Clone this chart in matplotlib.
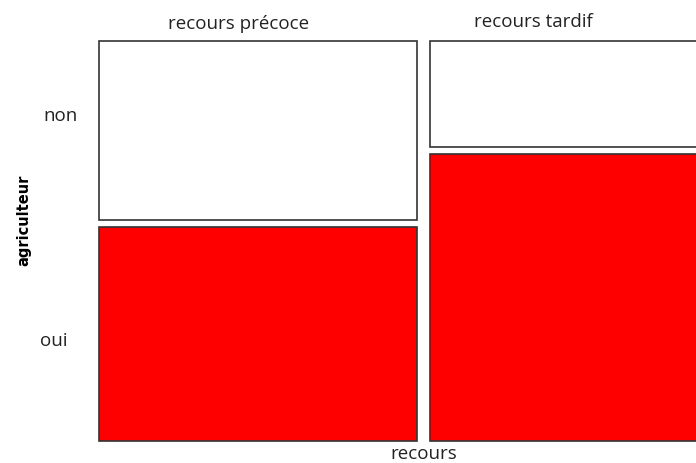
import matplotlib
matplotlib.use("Agg")
import matplotlib.pyplot as plt
from matplotlib.patches import Rectangle

# Data (proportions read from the mosaic)
col_labels = ["recours précoce", "recours tardif"]
row_labels = ["non", "oui"]
col_widths = [0.5, 0.5]          # share of each "recours" level
prop_non = [0.455, 0.27]         # share of "non" within each column
colors = {"non": "white", "oui": "#ff0000"}

W, H = 696, 463
fig = plt.figure(figsize=(W / 100, H / 100), dpi=100)

# axes placement in pixels
px_left, px_top, px_bottom = 99, 41, 441
px_per_unit = 636.0
gap_x = 13 / px_per_unit
gap_y = 7 / (px_bottom - px_top)
ax_w_px = W - px_left
ax = fig.add_axes([px_left / W, (H - px_bottom) / H, ax_w_px / W, (px_bottom - px_top) / H])
ax.set_xlim(0, ax_w_px / px_per_unit)
ax.set_ylim(0, 1)
ax.axis("off")

x0 = 0.0
for w, pn in zip(col_widths, prop_non):
    avail = 1 - gap_y
    h_oui = avail * (1 - pn)
    h_non = avail * pn
    ax.add_patch(Rectangle((x0, 0), w, h_oui, facecolor=colors["oui"],
                           edgecolor="#333333", linewidth=1.2, clip_on=False))
    ax.add_patch(Rectangle((x0, h_oui + gap_y), w, h_non, facecolor=colors["non"],
                           edgecolor="#333333", linewidth=1.2, clip_on=False))
    x0 += w + gap_x

font = "Open Sans"
def ptext(x, y, s, va="center", **kw):
    fig.text(x / W, 1 - y / H, s, ha="center", va=va, **kw)

fs = 13.5
ptext(239, 24, col_labels[0], fontsize=fs, family=font, color="#222222")
ptext(533, 22, col_labels[1], fontsize=fs, family=font, color="#222222")
ptext(60, 116, row_labels[0], fontsize=fs, family=font, color="#222222")
ptext(54, 341, row_labels[1], fontsize=fs, family=font, color="#222222")
ptext(24, 220, "agriculteur", fontsize=10.5, family="DejaVu Sans", fontweight="heavy",
      rotation=90, color="black")
ptext(424, 463, "recours", va="bottom", fontsize=fs, family=font, color="#222222")

fig.savefig("out.png", dpi=100)
